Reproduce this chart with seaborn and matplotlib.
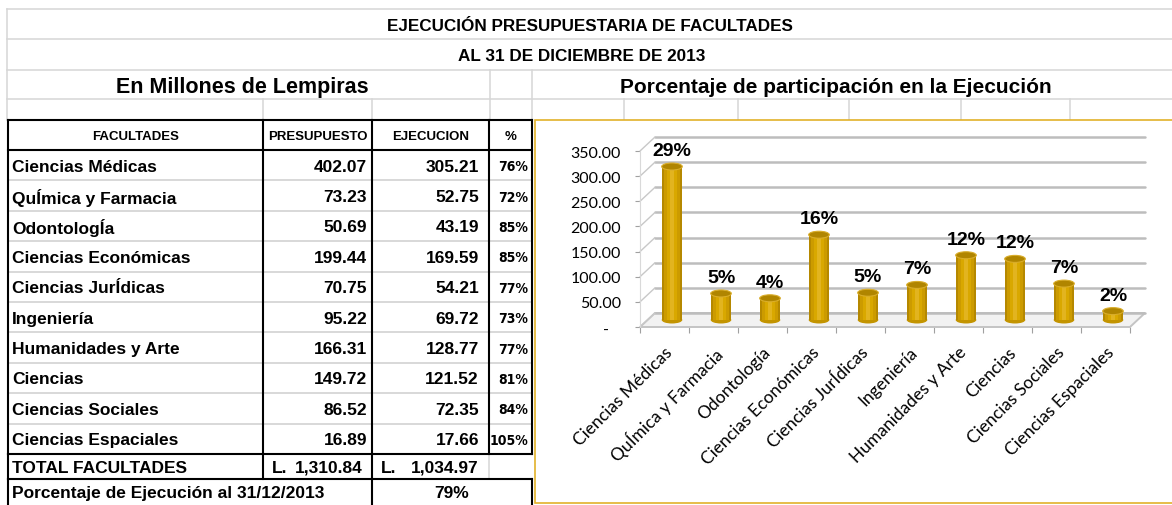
import matplotlib
matplotlib.use("Agg")
import matplotlib.pyplot as plt
from matplotlib import font_manager
from matplotlib.patches import Ellipse, Rectangle, Polygon
import pandas as pd
import seaborn as sns

# datos de la hoja
facultades = ["Ciencias Médicas", "QuÍmica y Farmacia", "OdontologÍa", "Ciencias Económicas",
              "Ciencias JurÍdicas", "Ingeniería", "Humanidades y Arte", "Ciencias",
              "Ciencias Sociales", "Ciencias Espaciales"]
etiquetas = ["Ciencias Médicas", "QuÍmica y Farmacia", "Odontología", "Ciencias Económicas",
             "Ciencias JurÍdicas", "Ingeniería", "Humanidades y Arte", "Ciencias",
             "Ciencias Sociales", "Ciencias Espaciales"]
presupuesto = [402.07, 73.23, 50.69, 199.44, 70.75, 95.22, 166.31, 149.72, 86.52, 16.89]
ejecucion = [305.21, 52.75, 43.19, 169.59, 54.21, 69.72, 128.77, 121.52, 72.35, 17.66]
y_ticks = [0, 50, 100, 150, 200, 250, 300, 350]

titulo = "EJECUCIÓN PRESUPUESTARIA DE FACULTADES"
fecha = "AL 31 DE DICIEMBRE DE 2013"
encabezados = ["FACULTADES", "PRESUPUESTO", "EJECUCION", "%"]

total_p = sum(presupuesto)
total_e = sum(ejecucion)

sns.set_theme(style="white")
plt.rcParams["font.family"] = ["Liberation Sans", "DejaVu Sans"]
plt.rcParams["text.color"] = "black"
plt.rcParams["xtick.labelcolor"] = "black"
plt.rcParams["ytick.labelcolor"] = "black"
installed = {f.name for f in font_manager.fontManager.ttflist}
tick_font = "Lato" if "Lato" in installed else "DejaVu Sans"

W, H = 1172, 506
fig = plt.figure(figsize=(W / 100, H / 100), dpi=100)
sheet = fig.add_axes([0, 0, 1, 1])
sheet.set_xlim(0, W)
sheet.set_ylim(H, 0)
sheet.axis("off")

GRID = "#D6D6D6"
BLACK = "#000000"


def line(x0, x1, y0, y1, color=GRID, lw=1.1, z=1):
    sheet.plot([x0, x1], [y0, y1], color=color, lw=lw, solid_capstyle="projecting", zorder=z)


# cuadricula de la hoja (parte superior)
for y in [10, 40, 71, 100]:
    line(7, W, y, y)
line(7, 7, 10, 121)
for x in [490, 532]:
    line(x, x, 71, 121)
for x in [263, 372, 624, 738, 849, 961, 1070]:
    line(x, x, 100, 121)

sheet.text(590, 26, titulo, ha="center", va="center", fontsize=12.3, fontweight="bold")
sheet.text(582, 56, fecha, ha="center", va="center", fontsize=12.3, fontweight="bold")
sheet.text(242, 87, "En Millones de Lempiras", ha="center", va="center", fontsize=15.5, fontweight="bold")
sheet.text(836, 87, "Porcentaje de participación en la Ejecución", ha="center", va="center",
           fontsize=15, fontweight="bold")

# tabla
top, head_h, row_h = 121, 30, 30.4
data_top = top + head_h
data_bot = data_top + row_h * len(facultades)
tot_bot = data_bot + 25
cols = [8, 263, 372, 489, 532]

for k in range(1, len(facultades)):
    y = data_top + row_h * k
    line(8, 532, y, y, color=GRID, lw=1.3)

line(8, 532, top, top, BLACK, 1.5, 4)
line(8, 532, data_top, data_top, BLACK, 1.5, 4)
line(8, 532, data_bot, data_bot, BLACK, 1.5, 4)
line(8, 532, tot_bot, tot_bot, BLACK, 1.5, 4)
for x in cols:
    line(x, x, top, data_bot, BLACK, 1.5, 4)
for x in [8, 263, 372]:
    line(x, x, data_bot, tot_bot, BLACK, 1.5, 4)
line(489, 489, data_bot, tot_bot, GRID, 1.1)
for x in [8, 372, 532]:
    line(x, x, tot_bot, H, BLACK, 1.5, 4)

centers = [(cols[i] + cols[i + 1]) / 2 for i in range(4)]
for cx, txt in zip(centers, encabezados):
    sheet.text(cx, top + head_h / 2 + 1, txt, ha="center", va="center", fontsize=9.5, fontweight="bold")

for k, (nom, p, e) in enumerate(zip(facultades, presupuesto, ejecucion)):
    yc = data_top + row_h * (k + 0.5) + 1
    sheet.text(12, yc, nom, ha="left", va="center", fontsize=12.5, fontweight="bold")
    sheet.text(367, yc, f"{p:,.2f}", ha="right", va="center", fontsize=12.5, fontweight="bold")
    sheet.text(479, yc, f"{e:,.2f}", ha="right", va="center", fontsize=12.5, fontweight="bold")
    sheet.text(528, yc, f"{e / p:.0%}", ha="right", va="center", fontsize=10,
               fontweight="bold", family="DejaVu Sans", fontstretch="condensed")

yc = (data_bot + tot_bot) / 2 + 1
sheet.text(12, yc, "TOTAL FACULTADES", ha="left", va="center", fontsize=12.5, fontweight="bold")
sheet.text(272, yc, "L.", ha="left", va="center", fontsize=12.5, fontweight="bold")
sheet.text(363, yc, f"{total_p:,.2f}", ha="right", va="center", fontsize=12.5, fontweight="bold")
sheet.text(381, yc, "L.", ha="left", va="center", fontsize=12.5, fontweight="bold")
sheet.text(479, yc, f"{total_e:,.2f}", ha="right", va="center", fontsize=12.5, fontweight="bold")

yc = (tot_bot + H) / 2 + 1
sheet.text(12, yc, "Porcentaje de Ejecución al 31/12/2013", ha="left", va="center",
           fontsize=12.5, fontweight="bold")
sheet.text(452, yc, f"{total_e / total_p:.0%}", ha="center", va="center", fontsize=12.5, fontweight="bold")

# marco del grafico
sheet.add_patch(Rectangle((535, 121), 650, 383, facecolor="white", edgecolor="#E2B12A", lw=1.2, zorder=3))

# grafico de columnas
ax = fig.add_axes([640 / W, 1 - 328 / H, 490 / W, 176 / H])
ax.patch.set_alpha(0)
n = len(etiquetas)
ddx = 15 / (490 / n)
ddy = 14 / (176 / 350)

df = pd.DataFrame({"facultad": etiquetas, "ejecucion": ejecucion})
for col, wd in [("#B58800", 0.42), ("#CC9B00", 0.34), ("#D9A800", 0.22), ("#E2B420", 0.08)]:
    sns.barplot(data=df, x="facultad", y="ejecucion", color=col, width=wd, saturation=1,
                linewidth=0, edgecolor="none", ax=ax, zorder=3)
for p in ax.patches:
    p.set_x(p.get_x() + ddx / 2)
    p.set_y(p.get_y() + ddy / 2)

cap_h = 7 / (176 / 350)
for i, v in enumerate(ejecucion):
    ax.add_patch(Ellipse((i + ddx / 2, ddy / 2), 0.42, cap_h, facecolor="#C39400", edgecolor="none", zorder=2.9))
    ax.add_patch(Ellipse((i + ddx / 2, v + ddy / 2), 0.42, cap_h, facecolor="#B08500",
                         edgecolor="#D9AD2A", lw=0.8, zorder=4))
    ax.text(i + ddx / 2, v + ddy / 2 + 15, f"{v / total_e:.0%}", ha="center", va="bottom",
            fontsize=14, fontweight="bold", zorder=5)

# piso y paredes
ax.add_patch(Polygon([(-0.5, 0), (n - 0.5, 0), (n - 0.5 + ddx, ddy), (-0.5 + ddx, ddy)], closed=True,
                     facecolor="#F2F2F2", edgecolor="#C4C4C4", lw=1.4, zorder=1, clip_on=False))
for v in y_ticks:
    ax.plot([-0.5 + ddx, n - 0.5 + ddx], [v + ddy, v + ddy], color="#BDBDBD", lw=1.8, zorder=1, clip_on=False)
    ax.plot([-0.5, -0.5 + ddx], [v, v + ddy], color="#C8C8C8", lw=1.0, zorder=1, clip_on=False)
ax.plot([-0.5, -0.5], [0, 350], color="#D9D9D9", lw=0.8, zorder=1, clip_on=False)

ax.set_xlim(-0.5, n - 0.5)
ax.set_ylim(0, 350)
sns.despine(ax=ax, left=True, bottom=True)
ax.set_xlabel("")
ax.set_ylabel("")
ax.set_yticks(y_ticks)
ax.set_yticklabels([f"{v:.2f}" if v else "-   " for v in y_ticks], family=tick_font, fontsize=11.5)
ax.tick_params(axis="y", left=True, length=3.6, width=0.8, color="#A0A0A0", pad=10)
ax.set_xticks(range(n))
ax.set_xticklabels(etiquetas, rotation=45, ha="right", va="top", rotation_mode="anchor",
                   family=tick_font, fontsize=12.5)
ax.set_xticks([k - 0.5 for k in range(n + 1)], minor=True)
ax.tick_params(axis="x", which="major", length=0, pad=12)
ax.tick_params(axis="x", which="minor", bottom=True, length=4, width=0.8, color="#A0A0A0")

fig.savefig("out.png", dpi=100)
